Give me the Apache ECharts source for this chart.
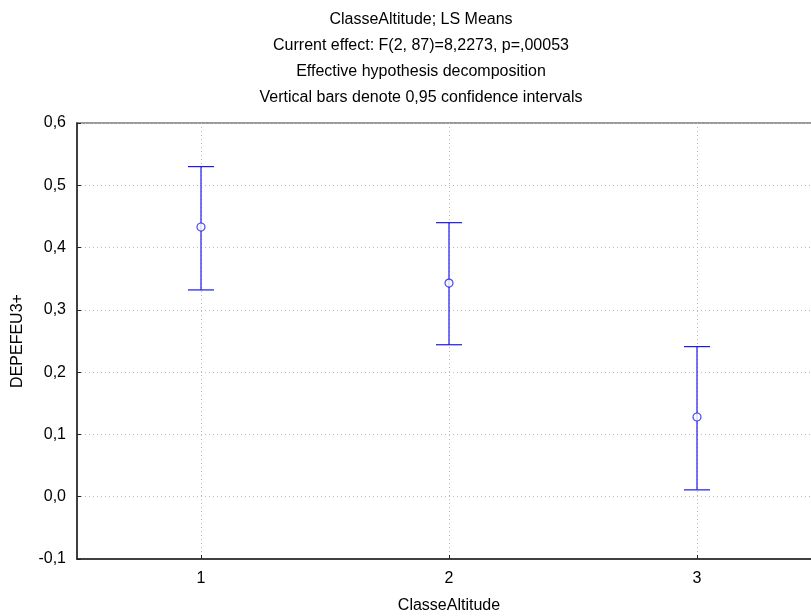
<!DOCTYPE html>
<html>
<head>
<meta charset="utf-8">
<script src="https://cdn.jsdelivr.net/npm/echarts@6/dist/echarts.min.js"></script>
<style>html,body{margin:0;padding:0;background:#fff}#c{width:811px;height:616px}</style>
</head>
<body>
<div id="c"></div>
<script>
var categories = [1, 2, 3];
var means = [0.433, 0.343, 0.128];
var lower = [0.332, 0.244, 0.011];
var upper = [0.530, 0.440, 0.241];
var yTicks = [-0.1, 0.0, 0.1, 0.2, 0.3, 0.4, 0.5, 0.6];
var titleLines = [
  'ClasseAltitude; LS Means',
  'Current effect: F(2, 87)=8,2273, p=,00053',
  'Effective hypothesis decomposition',
  'Vertical bars denote 0,95 confidence intervals'
];

var chart = echarts.init(document.getElementById('c'), null, {renderer: 'canvas'});
var FONT = 'Liberation Sans, Arial, sans-serif';
var errData = categories.map(function (c, i) { return [c, lower[i], upper[i]]; });
var meanData = categories.map(function (c, i) { return [c, means[i]]; });

chart.setOption({
  animation: false,
  title: {
    text: titleLines.join('\n'),
    left: 416,
    top: 2,
    textAlign: 'center',
    textStyle: {fontFamily: FONT, fontSize: 16, fontWeight: 'normal', color: '#000', lineHeight: 26}
  },
  grid: {
    left: 77, top: 123, width: 744, height: 436,
    outerBoundsMode: 'none',
    show: true, borderColor: '#777', borderWidth: 1.5, containLabel: false
  },
  xAxis: {
    type: 'value', min: 0.5, max: 3.5, interval: 0.5,
    name: 'ClasseAltitude', nameLocation: 'middle', nameGap: 39,
    nameTextStyle: {fontFamily: FONT, fontSize: 16, color: '#000'},
    axisLine: {show: true, onZero: false, lineStyle: {color: '#222', width: 1.5}},
    axisTick: {show: true, inside: true, length: 4, lineStyle: {color: '#222'},
      customValues: categories},
    axisLabel: {fontFamily: FONT, fontSize: 16, color: '#000', margin: 12,
      customValues: categories,
      formatter: function (v) { return String(v); }},
    splitLine: {show: true, lineStyle: {color: '#bbb', type: [1, 3], width: 1}}
  },
  yAxis: {
    type: 'value', min: -0.1, max: 0.6, interval: 0.1,
    name: 'DEPEFEU3+', nameLocation: 'middle', nameGap: 51, nameRotate: 90,
    nameTextStyle: {fontFamily: FONT, fontSize: 16, color: '#000'},
    axisLine: {show: true, onZero: false, lineStyle: {color: '#222', width: 1.5}},
    axisTick: {show: true, inside: true, length: 4, lineStyle: {color: '#222'}},
    axisLabel: {fontFamily: FONT, fontSize: 16, color: '#000', margin: 11,
      formatter: function (v) {
        var r = Math.round(v * 10) / 10;
        return r.toFixed(1).replace('.', ',');
      }},
    splitLine: {show: true, lineStyle: {color: '#bbb', type: [1, 3], width: 1}}
  },
  series: [
    {
      type: 'custom',
      data: errData,
      z: 3,
      renderItem: function (params, api) {
        var x = api.value(0);
        var lo = api.coord([x, api.value(1)]);
        var hi = api.coord([x, api.value(2)]);
        var hw = 13;
        var st = {stroke: '#1a1aee', lineWidth: 1.2};
        return {
          type: 'group',
          children: [
            {type: 'line', shape: {x1: lo[0], y1: lo[1], x2: hi[0], y2: hi[1]}, style: st},
            {type: 'line', shape: {x1: lo[0] - hw, y1: lo[1], x2: lo[0] + hw, y2: lo[1]}, style: st},
            {type: 'line', shape: {x1: hi[0] - hw, y1: hi[1], x2: hi[0] + hw, y2: hi[1]}, style: st}
          ]
        };
      }
    },
    {
      type: 'scatter',
      data: meanData,
      z: 4,
      symbol: 'circle',
      symbolSize: 8,
      itemStyle: {color: '#fff', borderColor: '#1a1aee', borderWidth: 1.2}
    }
  ]
});
</script>
</body>
</html>
